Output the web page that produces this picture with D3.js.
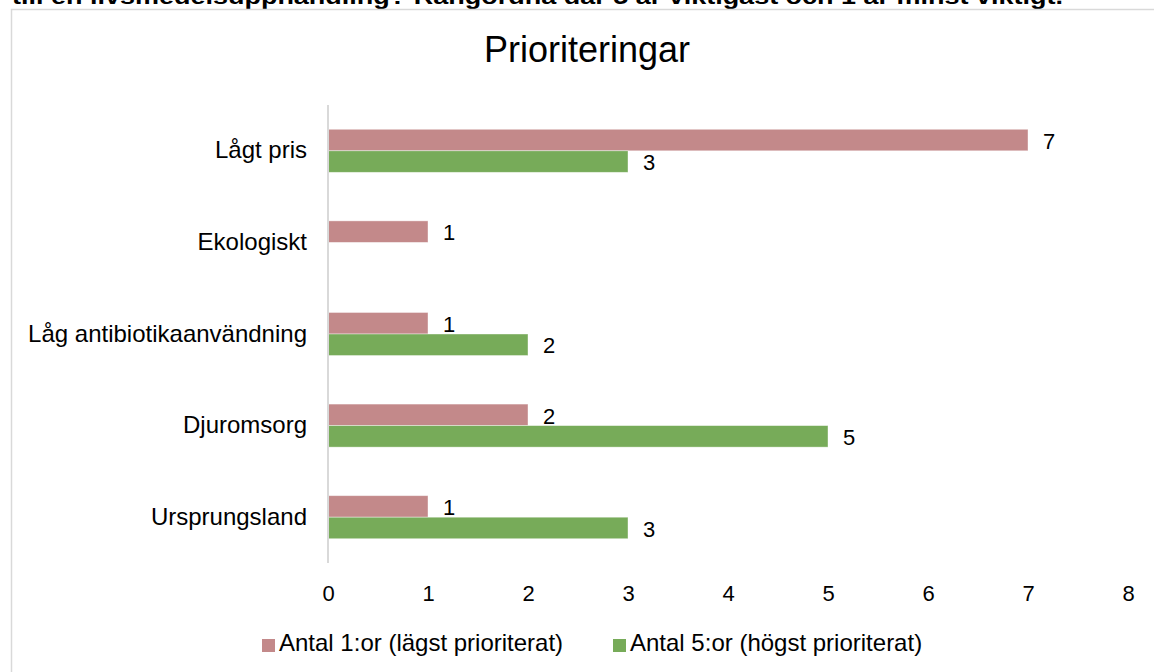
<!DOCTYPE html>
<html>
<head>
<meta charset="utf-8">
<script src="https://cdn.jsdelivr.net/npm/d3@7"></script>
<style>
  body { margin: 0; background: #fff; }
  svg { display: block; font-family: "Liberation Sans", Arial, sans-serif; }
</style>
</head>
<body>
<svg width="1154" height="672"></svg>
<script>
// kategorier och värden
var categories = ["Lågt pris", "Ekologiskt", "Låg antibiotikaanvändning", "Djuromsorg", "Ursprungsland"];
var lowest = [7, 1, 1, 2, 1];   // Antal 1:or
var highest = [3, null, 2, 5, 3]; // Antal 5:or
var seriesNames = ["Antal 1:or (lägst prioriterat)", "Antal 5:or (högst prioriterat)"];
var xTicks = [0, 1, 2, 3, 4, 5, 6, 7, 8];

var colors = ["#c3898a", "#77ab59"];

var svg = d3.select("svg");

// avklippt rubrik ovanför diagrammet
svg.append("text")
  .attr("x", 12).attr("y", 4)
  .attr("font-size", 22).attr("font-weight", "bold")
  .attr("textLength", 1051).attr("lengthAdjust", "spacingAndGlyphs")
  .text("till en livsmedelsupphandling? Rangordna där 5 är viktigast och 1 är minst viktigt.");

// ram runt diagrammet
svg.append("rect")
  .attr("x", 11.5).attr("y", 9.5)
  .attr("width", 1200).attr("height", 700)
  .attr("fill", "#fff")
  .attr("stroke", "#d9d9d9").attr("stroke-width", 1.5);

svg.append("text")
  .attr("x", 587).attr("y", 62)
  .attr("text-anchor", "middle")
  .attr("font-size", 36)
  .text("Prioriteringar");

var x = d3.scaleLinear().domain([0, 8]).range([328, 1128]);
var y = d3.scaleBand().domain(categories).range([105, 563])
  .paddingInner(0.53).paddingOuter(0.265);
var sub = d3.scaleBand().domain([0, 1]).range([0, y.bandwidth()]);

var series = [lowest, highest];

series.forEach(function(vals, si) {
  var g = svg.append("g");
  var d = categories.map(function(c, i) { return { cat: c, v: vals[i] }; })
    .filter(function(e) { return e.v != null; });
  g.selectAll("rect").data(d).enter().append("rect")
    .attr("x", x(0))
    .attr("y", function(e) { return y(e.cat) + sub(si); })
    .attr("width", function(e) { return x(e.v) - x(0); })
    .attr("height", sub.bandwidth())
    .attr("fill", colors[si])
    .attr("stroke", "#fff").attr("stroke-opacity", 0.5).attr("stroke-width", 0.8);
  g.selectAll("text").data(d).enter().append("text")
    .attr("x", function(e) { return x(e.v) + 15; })
    .attr("y", function(e) { return y(e.cat) + sub(si) + sub.bandwidth() / 2 + 1; })
    .attr("dy", "0.35em")
    .attr("font-size", 22)
    .attr("fill", "#000")
    .text(function(e) { return e.v; });
});

// vertikal axel
var yAxis = svg.append("g")
  .attr("transform", "translate(" + x(0) + ",0)")
  .call(d3.axisLeft(y).tickSize(0).tickPadding(21));
yAxis.select(".domain").attr("stroke", "#d9d9d9").attr("stroke-width", 2)
  .attr("d", "M0,105V563");
yAxis.selectAll("text").attr("font-size", 24).attr("fill", "#000")
  .attr("font-family", "Liberation Sans, Arial, sans-serif");

// horisontell axel, bara etiketter
var xAxis = svg.append("g")
  .attr("transform", "translate(0,563)")
  .call(d3.axisBottom(x).tickValues(xTicks).tickSize(0).tickPadding(22));
xAxis.select(".domain").remove();
xAxis.selectAll("text").attr("font-size", 22).attr("fill", "#000")
  .attr("font-family", "Liberation Sans, Arial, sans-serif");

// förklaring
var legendX = [262, 613];
seriesNames.forEach(function(n, i) {
  svg.append("rect")
    .attr("x", legendX[i]).attr("y", 639)
    .attr("width", 13).attr("height", 13)
    .attr("fill", colors[i]);
  svg.append("text")
    .attr("x", legendX[i] + 17).attr("y", 651)
    .attr("font-size", 24)
    .text(n);
});
</script>
</body>
</html>
